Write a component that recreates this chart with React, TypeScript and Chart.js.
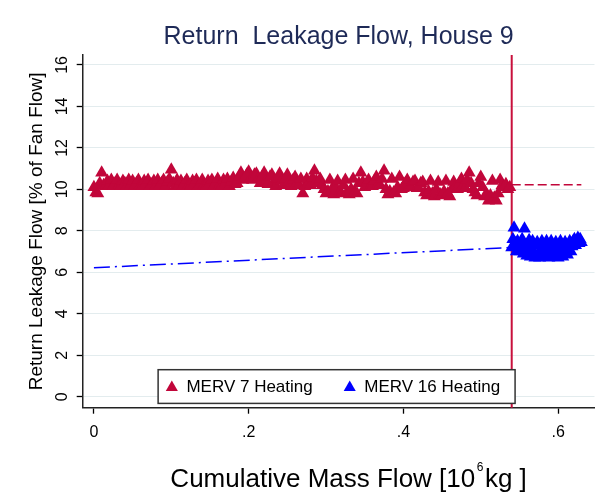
import React, { useEffect, useRef } from 'react';
import { Chart, registerables } from 'chart.js';

Chart.register(...registerables);

// ---- data ----
const merv7Mass = [
  0.0000, 0.0025, 0.0050, 0.0075, 0.0100, 0.0125, 0.0150, 0.0175,
  0.0200, 0.0225, 0.0250, 0.0275, 0.0300, 0.0325, 0.0350, 0.0375,
  0.0400, 0.0425, 0.0450, 0.0475, 0.0500, 0.0525, 0.0550, 0.0575,
  0.0600, 0.0625, 0.0650, 0.0675, 0.0700, 0.0725, 0.0750, 0.0775,
  0.0800, 0.0825, 0.0850, 0.0875, 0.0900, 0.0925, 0.0950, 0.0975,
  0.1000, 0.1025, 0.1050, 0.1075, 0.1100, 0.1125, 0.1150, 0.1175,
  0.1200, 0.1225, 0.1250, 0.1275, 0.1300, 0.1325, 0.1350, 0.1375,
  0.1400, 0.1425, 0.1450, 0.1475, 0.1500, 0.1525, 0.1550, 0.1575,
  0.1600, 0.1625, 0.1650, 0.1675, 0.1700, 0.1725, 0.1750, 0.1775,
  0.1800, 0.1825, 0.1850, 0.1875, 0.1900, 0.1925, 0.1950, 0.1975,
  0.2000, 0.2025, 0.2050, 0.2075, 0.2100, 0.2125, 0.2150, 0.2175,
  0.2200, 0.2225, 0.2250, 0.2275, 0.2300, 0.2325, 0.2350, 0.2375,
  0.2400, 0.2425, 0.2450, 0.2475, 0.2500, 0.2525, 0.2550, 0.2575,
  0.2600, 0.2625, 0.2650, 0.2675, 0.2700, 0.2725, 0.2750, 0.2775,
  0.2800, 0.2825, 0.2850, 0.2875, 0.2900, 0.2925, 0.2950, 0.2975,
  0.3000, 0.3025, 0.3050, 0.3075, 0.3100, 0.3125, 0.3150, 0.3175,
  0.3200, 0.3225, 0.3250, 0.3275, 0.3300, 0.3325, 0.3350, 0.3375,
  0.3400, 0.3425, 0.3450, 0.3475, 0.3500, 0.3525, 0.3550, 0.3575,
  0.3600, 0.3625, 0.3650, 0.3675, 0.3700, 0.3725, 0.3750, 0.3775,
  0.3800, 0.3825, 0.3850, 0.3875, 0.3900, 0.3925, 0.3950, 0.3975,
  0.4000, 0.4025, 0.4050, 0.4075, 0.4100, 0.4125, 0.4150, 0.4175,
  0.4200, 0.4225, 0.4250, 0.4275, 0.4300, 0.4325, 0.4350, 0.4375,
  0.4400, 0.4425, 0.4450, 0.4475, 0.4500, 0.4525, 0.4550, 0.4575,
  0.4600, 0.4625, 0.4650, 0.4675, 0.4700, 0.4725, 0.4750, 0.4775,
  0.4800, 0.4825, 0.4850, 0.4875, 0.4900, 0.4925, 0.4950, 0.4975,
  0.5000, 0.5025, 0.5050, 0.5075, 0.5100, 0.5125, 0.5150, 0.5175,
  0.5200, 0.5225, 0.5250, 0.5275, 0.5300, 0.5325, 0.5350, 0.5375,
];
const merv7Leak = [
  10.1, 9.85, 9.8, 10.3, 10.8, 10.2, 10.15, 10.4,
  10.2, 10.45, 10.15, 10.3, 10.45, 10.2, 10.15, 10.4,
  10.3, 10.15, 10.45, 10.2, 10.4, 10.15, 10.3, 10.45,
  10.2, 10.15, 10.4, 10.3, 10.45, 10.15, 10.25, 10.4,
  10.15, 10.45, 10.2, 10.3, 10.45, 10.15, 10.35, 10.5,
  10.95, 10.3, 10.15, 10.45, 10.2, 10.4, 10.15, 10.3,
  10.45, 10.2, 10.15, 10.4, 10.3, 10.45, 10.15, 10.25,
  10.45, 10.2, 10.15, 10.4, 10.3, 10.45, 10.15, 10.3,
  10.5, 10.2, 10.15, 10.45, 10.3, 10.5, 10.15, 10.35,
  10.55, 10.25, 10.3, 10.6, 10.8, 10.45, 10.5, 10.7,
  10.85, 10.5, 10.45, 10.7, 10.75, 10.5, 10.3, 10.6,
  10.8, 10.4, 10.25, 10.6, 10.7, 10.35, 10.15, 10.5,
  10.75, 10.4, 10.2, 10.5, 10.7, 10.35, 10.15, 10.45,
  10.6, 10.3, 10.2, 10.5, 9.8, 10.15, 10.5, 10.3,
  10.2, 10.55, 10.9, 10.4, 10.3, 10.5, 10.2, 10.0,
  9.8, 9.9, 10.45, 10.0, 9.75, 10.1, 10.4, 9.85,
  9.8, 10.2, 10.45, 9.9, 9.75, 10.0, 10.5, 9.85,
  9.8, 10.3, 10.8, 10.35, 10.1, 10.3, 10.45, 10.15,
  10.15, 10.4, 10.6, 10.25, 10.2, 10.5, 10.9, 10.0,
  9.75, 9.9, 10.5, 9.85, 9.8, 10.1, 10.6, 10.0,
  10.05, 10.3, 10.45, 10.1, 10.1, 10.35, 10.4, 10.05,
  10.05, 10.3, 10.35, 9.85, 9.7, 9.9, 10.4, 9.8,
  9.65, 10.0, 10.35, 9.75, 9.7, 9.9, 10.4, 9.8,
  9.65, 10.0, 10.35, 10.15, 10.0, 10.3, 10.5, 10.2,
  10.05, 10.45, 10.8, 10.3, 10.0, 9.85, 9.7, 10.3,
  10.6, 10.1, 9.65, 9.75, 9.45, 9.7, 10.4, 9.6,
  9.45, 9.8, 10.45, 10.2, 10.1, 10.25, 10.0, 10.1,
];

const merv16Mass = [
  0.5400, 0.5415, 0.5430, 0.5445, 0.5460, 0.5475, 0.5490, 0.5505,
  0.5520, 0.5535, 0.5550, 0.5565, 0.5580, 0.5595, 0.5610, 0.5625,
  0.5640, 0.5655, 0.5670, 0.5685, 0.5700, 0.5715, 0.5730, 0.5745,
  0.5760, 0.5775, 0.5790, 0.5805, 0.5820, 0.5835, 0.5850, 0.5865,
  0.5880, 0.5895, 0.5910, 0.5925, 0.5940, 0.5955, 0.5970, 0.5985,
  0.6000, 0.6015, 0.6030, 0.6045, 0.6060, 0.6075, 0.6090, 0.6105,
  0.6120, 0.6135, 0.6150, 0.6165, 0.6180, 0.6195, 0.6210, 0.6225,
  0.6240, 0.6255, 0.6270, 0.6285, 0.6300,
];
const merv16Leak = [
  7.2, 7.6, 8.15, 7.4, 7.0, 7.5, 7.2, 7.0,
  7.4, 7.6, 6.9, 8.1, 7.3, 6.8, 7.1, 7.55,
  6.75, 7.2, 7.5, 6.9, 6.7, 7.3, 7.45, 6.85,
  6.7, 7.1, 7.5, 6.95, 6.75, 7.25, 7.5, 6.9,
  6.7, 7.1, 7.5, 6.95, 6.75, 7.3, 7.45, 6.85,
  6.7, 7.2, 7.5, 6.9, 6.75, 7.25, 7.45, 6.95,
  6.85, 7.3, 7.5, 7.0, 7.25, 7.5, 7.6, 7.3,
  7.45, 7.65, 7.4, 7.6, 7.45,
];

// fitted / projected trend lines
const merv7FitMass = [0.54, 0.63];
const merv7FitLeak = [10.22, 10.22];
const merv16FitMass = [0.0, 0.54];
const merv16FitLeak = [6.22, 7.2];

// filter change point
const filterChangeMass = 0.54;

const seriesLabels = ['MERV 7 Heating', 'MERV 16 Heating'];

const xTickValues = [0, 0.2, 0.4, 0.6];
const xTickLabels = ['0', '.2', '.4', '.6'];
const yTickValues = [0, 2, 4, 6, 8, 10, 12, 14, 16];
const yTickLabels = ['0', '2', '4', '6', '8', '10', '12', '14', '16'];

const chartTitle = 'Return  Leakage Flow, House 9';
const xTitleMain = 'Cumulative Mass Flow [10';
const xTitleSup = '6';
const xTitleEnd = 'kg ]';
const yTitle = 'Return Leakage Flow [% of Fan Flow]';

// ---- styles ----
const RED = '#c1063a';
const BLUE = '#0000ff';
const FONT = "'Liberation Sans', Arial, Helvetica, sans-serif";

const toPoints = (xs: number[], ys: number[]) => xs.map((x, i) => ({ x, y: ys[i] }));

const filterLinePlugin = {
  id: 'filterLine',
  beforeDatasetsDraw(chart: any) {
    const { ctx, chartArea, scales } = chart;
    const px = scales.x.getPixelForValue(filterChangeMass);
    ctx.save();
    ctx.strokeStyle = '#c8103c';
    ctx.lineWidth = 2;
    ctx.beginPath();
    ctx.moveTo(px, chartArea.top);
    ctx.lineTo(px, chartArea.bottom);
    ctx.stroke();
    ctx.restore();
  },
};

const xTitlePlugin = {
  id: 'xTitle',
  afterDraw(chart: any) {
    const { ctx, chartArea } = chart;
    ctx.save();
    ctx.fillStyle = '#000';
    ctx.textBaseline = 'alphabetic';
    ctx.textAlign = 'left';
    const mainFont = `26px ${FONT}`;
    const supFont = `12px ${FONT}`;
    ctx.font = mainFont;
    const w1 = ctx.measureText(xTitleMain).width;
    const w3 = ctx.measureText(xTitleEnd).width;
    ctx.font = supFont;
    const w2 = ctx.measureText(xTitleSup).width;
    const gap = 1.5;
    const total = w1 + gap + w2 + gap + w3;
    const cx = (chartArea.left + chartArea.right) / 2 + 10;
    const baseline = chartArea.bottom + 79;
    let x = cx - total / 2;
    ctx.font = mainFont;
    ctx.fillText(xTitleMain, x, baseline);
    x += w1 + gap;
    ctx.font = supFont;
    ctx.fillText(xTitleSup, x, baseline - 16);
    x += w2 + gap;
    ctx.font = mainFont;
    ctx.fillText(xTitleEnd, x, baseline);
    ctx.restore();
  },
};

const boxLegendPlugin = {
  id: 'boxLegend',
  afterDraw(chart: any) {
    const { ctx, chartArea } = chart;
    const ds = chart.data.datasets.slice(0, 2);
    ctx.save();
    ctx.font = `17px ${FONT}`;
    const w1 = ctx.measureText(ds[0].label).width;
    const w2 = ctx.measureText(ds[1].label).width;
    const padL = 13.7;
    const markToText = 14.6;
    const itemGap = 37;
    const padR = 15;
    const boxW = padL + markToText + w1 + itemGap + markToText + w2 + padR;
    const boxH = 33.7;
    const cx = (chartArea.left + chartArea.right) / 2 - 2;
    const left = cx - boxW / 2;
    const bottom = chartArea.bottom - 4.3;
    const top = bottom - boxH;
    const midY = top + boxH / 2;
    ctx.fillStyle = '#ffffff';
    ctx.fillRect(left, top, boxW, boxH);
    ctx.strokeStyle = '#333333';
    ctx.lineWidth = 1.5;
    ctx.strokeRect(left, top, boxW, boxH);

    const tri = (x: number, y: number, color: string) => {
      const r = 7;
      ctx.fillStyle = color;
      ctx.beginPath();
      ctx.moveTo(x, y - r);
      ctx.lineTo(x + r * Math.sqrt(3) / 2, y + r / 2);
      ctx.lineTo(x - r * Math.sqrt(3) / 2, y + r / 2);
      ctx.closePath();
      ctx.fill();
    };
    const m1 = left + padL;
    tri(m1, midY + 1, ds[0].backgroundColor);
    ctx.fillStyle = '#000000';
    ctx.textBaseline = 'middle';
    ctx.textAlign = 'left';
    ctx.fillText(ds[0].label, m1 + markToText, midY + 1);
    const m2 = m1 + markToText + w1 + itemGap;
    tri(m2, midY + 1, ds[1].backgroundColor);
    ctx.fillStyle = '#000000';
    ctx.fillText(ds[1].label, m2 + markToText, midY + 1);
    ctx.restore();
  },
};

export default function App() {
  const canvasRef = useRef<HTMLCanvasElement | null>(null);

  useEffect(() => {
    if (!canvasRef.current) return;
    Chart.defaults.font.family = FONT;
    const chart = new Chart(canvasRef.current, {
      type: 'scatter',
      data: {
        datasets: [
          {
            label: seriesLabels[0],
            data: toPoints(merv7Mass, merv7Leak),
            backgroundColor: RED,
            borderColor: RED,
            pointStyle: 'triangle',
            pointRadius: 7.5,
            pointBorderWidth: 0,
            showLine: false,
          },
          {
            label: seriesLabels[1],
            data: toPoints(merv16Mass, merv16Leak),
            backgroundColor: BLUE,
            borderColor: BLUE,
            pointStyle: 'triangle',
            pointRadius: 7.5,
            pointBorderWidth: 0,
            showLine: false,
          },
          {
            label: 'MERV 7 trend',
            data: toPoints(merv7FitMass, merv7FitLeak),
            borderColor: RED,
            backgroundColor: RED,
            borderWidth: 1.5,
            borderDash: [9, 4],
            pointRadius: 0,
            showLine: true,
          },
          {
            label: 'MERV 16 trend',
            data: toPoints(merv16FitMass, merv16FitLeak),
            borderColor: BLUE,
            backgroundColor: BLUE,
            borderWidth: 1.5,
            borderDash: [16, 5, 2, 5],
            pointRadius: 0,
            showLine: true,
          },
        ],
      },
      options: {
        responsive: false,
        animation: false,
        layout: { padding: { left: 0, right: 5, top: 0, bottom: 0 } },
        plugins: {
          legend: { display: false },
          tooltip: { enabled: false },
          title: {
            display: true,
            text: chartTitle,
            fullSize: false,
            color: '#1e2a57',
            font: { size: 25, weight: 'normal', family: FONT },
            padding: { top: 22.5, bottom: 2.5 },
          },
        },
        scales: {
          x: {
            type: 'linear',
            min: -0.0145,
            max: 0.647,
            afterBuildTicks: (s: any) => {
              s.ticks = xTickValues.map((v) => ({ value: v }));
            },
            afterFit: (s: any) => {
              s.height = 96.3;
            },
            ticks: {
              autoSkip: false,
              maxRotation: 0,
              color: '#000',
              padding: 8.8,
              font: { size: 16, family: FONT },
              callback: (_v: any, i: number) => xTickLabels[i],
            },
            grid: {
              drawOnChartArea: false,
              tickLength: 6,
              tickColor: '#000',
              tickWidth: 1.3,
            },
            border: { display: true, color: '#222', width: 1.5 },
            title: { display: false },
          },
          y: {
            type: 'linear',
            min: -0.53,
            max: 16.48,
            afterBuildTicks: (s: any) => {
              s.ticks = yTickValues.map((v) => ({ value: v }));
            },
            afterFit: (s: any) => {
              s.width = 82.7;
            },
            ticks: {
              autoSkip: false,
              minRotation: 90,
              maxRotation: 90,
              crossAlign: 'center',
              color: '#000',
              padding: 5.3,
              font: { size: 16, family: FONT },
              callback: (_v: any, i: number) => yTickLabels[i],
            },
            grid: {
              color: '#e3ecee',
              lineWidth: 1,
              tickLength: 6,
              tickColor: '#000',
              tickWidth: 1.3,
            },
            border: { display: true, color: '#222', width: 1.5 },
            title: {
              display: true,
              text: yTitle,
              color: '#000',
              font: { size: 19, family: FONT },
              padding: { top: 25.3, bottom: 0 },
            },
          },
        },
      } as any,
      plugins: [filterLinePlugin, xTitlePlugin, boxLegendPlugin],
    });
    return () => chart.destroy();
  }, []);

  return (
    <div style={{ position: 'fixed', left: 0, top: 0, width: 602, height: 504, background: '#fff' }}>
      <canvas ref={canvasRef} width={602} height={504} />
    </div>
  );
}
